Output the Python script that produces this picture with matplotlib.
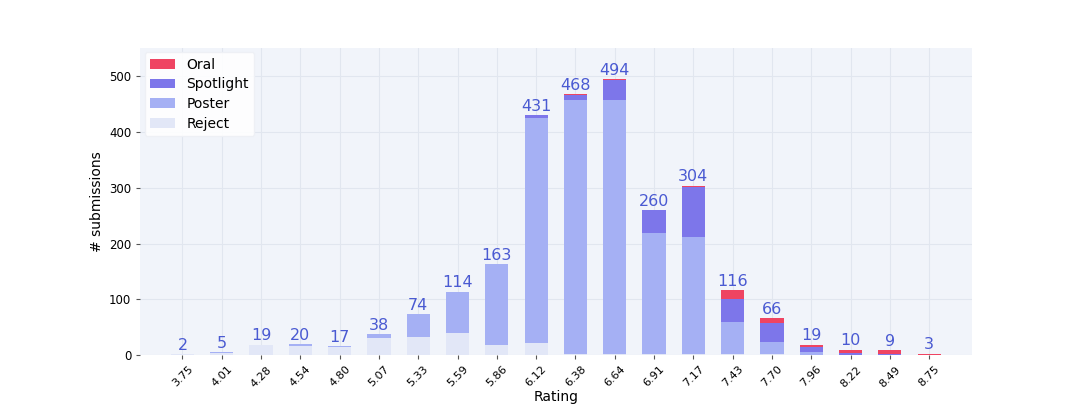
import matplotlib.pyplot as plt
import numpy as np

ratings = ["3.75", "4.01", "4.28", "4.54", "4.80", "5.07", "5.33", "5.59", "5.86", "6.12",
           "6.38", "6.64", "6.91", "7.17", "7.43", "7.70", "7.96", "8.22", "8.49", "8.75"]
reject = [2, 4, 18, 17, 15, 30, 32, 39, 18, 21, 3, 2, 2, 2, 2, 2, 0, 0, 0, 0]
poster = [0, 1, 1, 3, 2, 8, 42, 75, 145, 404, 454, 456, 217, 209, 57, 22, 5, 0, 0, 0]
spotlight = [0, 0, 0, 0, 0, 0, 0, 0, 0, 6, 10, 35, 41, 90, 42, 33, 9, 4, 2, 0]
oral = [0, 0, 0, 0, 0, 0, 0, 0, 0, 0, 1, 1, 0, 3, 15, 9, 5, 6, 7, 3]

fig = plt.figure(figsize=(10.8, 4.05), dpi=100)
ax = fig.add_axes([0.13, 0.123, 0.77, 0.758])
ax.set_facecolor("#f1f4fa")
for s in ax.spines.values():
    s.set_visible(False)
ax.grid(True, color="#e1e6ef", linewidth=0.8)
ax.set_axisbelow(True)

x = np.arange(len(ratings))
w = 0.59
reject = np.array(reject)
poster = np.array(poster)
spotlight = np.array(spotlight)
oral = np.array(oral)

ax.bar(x, reject, w, color="#e2e7f7", label="Reject")
ax.bar(x, poster, w, bottom=reject, color="#a5b0f4", label="Poster")
ax.bar(x, spotlight, w, bottom=reject + poster, color="#7d76ea", label="Spotlight")
ax.bar(x, oral, w, bottom=reject + poster + spotlight, color="#ef4462", label="Oral")

totals = reject + poster + spotlight + oral
for xi, t in zip(x, totals):
    ax.text(xi, t + 2, str(t), ha="center", va="bottom", fontsize=11.5, color="#4a5ad2")

ax.set_xticks(x)
ax.set_xticklabels(ratings, rotation=45, fontsize=8)
ax.tick_params(axis="y", labelsize=8.5)
ax.tick_params(length=3, color="#555555")
ax.set_xlim(-1.07, 20.09)
ax.set_ylim(0, 550)
ax.set_yticks([0, 100, 200, 300, 400, 500])
ax.set_xlabel("Rating", fontsize=10, labelpad=1)
ax.set_ylabel("# submissions", fontsize=10)

h, l = ax.get_legend_handles_labels()
ax.legend(h[::-1], l[::-1], loc="upper left", fontsize=10, facecolor="white",
          edgecolor="#eef0f5", framealpha=0.9, borderaxespad=0.3,
          handlelength=1.8, labelspacing=0.4)

fig.savefig("out.png")
